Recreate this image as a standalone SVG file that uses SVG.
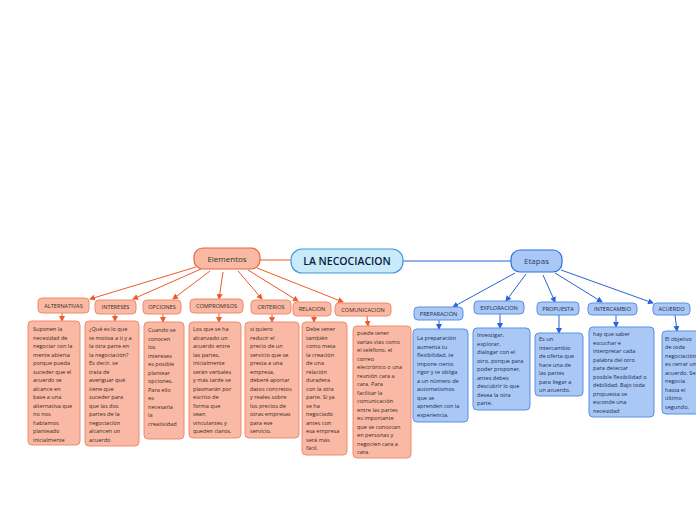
<svg xmlns="http://www.w3.org/2000/svg" width="696" height="520" viewBox="0 0 696 520">
<style>
.o{fill:#f9b9a4;stroke:#f08a6c;stroke-width:1}
.b{fill:#a9c8f6;stroke:#5b8fe6;stroke-width:1}
.lo{stroke:#f05a28;stroke-width:1;fill:none}
.lb{stroke:#2a62d8;stroke-width:1;fill:none}
.t{font-family:"Open Sans","Noto Sans",sans-serif;font-size:5.6px}
.to{fill:#3a2a22}
.tb{fill:#1e2a48}
.h{font-family:"Open Sans","Noto Sans",sans-serif;font-size:5.6px;text-anchor:middle}
</style>
<defs>
<marker id="ao" markerWidth="6" markerHeight="6" refX="5" refY="3" orient="auto" markerUnits="userSpaceOnUse"><path d="M0,0L6,3L0,6z" fill="#f05a28"/></marker>
<marker id="ab" markerWidth="6" markerHeight="6" refX="5" refY="3" orient="auto" markerUnits="userSpaceOnUse"><path d="M0,0L6,3L0,6z" fill="#2a62d8"/></marker>
</defs>
<rect width="696" height="520" fill="#ffffff"/>
<g id="connectors">
<line class="lo" x1="260" y1="260" x2="291" y2="260"/>
<line class="lb" x1="403" y1="261" x2="511" y2="261"/>
<line class="lo" x1="196" y1="267" x2="90" y2="299" marker-end="url(#ao)"/>
<line class="lo" x1="201" y1="269" x2="133" y2="299" marker-end="url(#ao)"/>
<line class="lo" x1="210" y1="271" x2="173" y2="299" marker-end="url(#ao)"/>
<line class="lo" x1="223" y1="272" x2="219" y2="299" marker-end="url(#ao)"/>
<line class="lo" x1="238" y1="271" x2="262" y2="299" marker-end="url(#ao)"/>
<line class="lo" x1="248" y1="270" x2="298" y2="301" marker-end="url(#ao)"/>
<line class="lo" x1="257" y1="268" x2="343" y2="302" marker-end="url(#ao)"/>
<line class="lo" x1="62" y1="313" x2="62" y2="321" marker-end="url(#ao)"/>
<line class="lo" x1="115" y1="314" x2="115" y2="321" marker-end="url(#ao)"/>
<line class="lo" x1="163" y1="314" x2="163" y2="322" marker-end="url(#ao)"/>
<line class="lo" x1="219" y1="313" x2="219" y2="322" marker-end="url(#ao)"/>
<line class="lo" x1="272" y1="314" x2="272" y2="322" marker-end="url(#ao)"/>
<line class="lo" x1="314" y1="316" x2="314" y2="322" marker-end="url(#ao)"/>
<line class="lo" x1="367" y1="316" x2="368" y2="326" marker-end="url(#ao)"/>
<line class="lb" x1="515" y1="273" x2="453" y2="307" marker-end="url(#ab)"/>
<line class="lb" x1="526" y1="274" x2="506" y2="301" marker-end="url(#ab)"/>
<line class="lb" x1="543" y1="275" x2="555" y2="302" marker-end="url(#ab)"/>
<line class="lb" x1="555" y1="273" x2="602" y2="302" marker-end="url(#ab)"/>
<line class="lb" x1="561" y1="270" x2="653" y2="303" marker-end="url(#ab)"/>
<line class="lb" x1="439" y1="320" x2="439" y2="329" marker-end="url(#ab)"/>
<line class="lb" x1="500" y1="314" x2="500" y2="328" marker-end="url(#ab)"/>
<line class="lb" x1="559" y1="315" x2="559" y2="333" marker-end="url(#ab)"/>
<line class="lb" x1="616" y1="315" x2="616" y2="327" marker-end="url(#ab)"/>
<line class="lb" x1="675" y1="315" x2="677" y2="331" marker-end="url(#ab)"/>
</g>
<g id="central"><rect x="291" y="249" width="112" height="24" rx="11" fill="#c8eafb" stroke="#3c9ad8" stroke-width="1.2"/><text x="347" y="265" font-family="Open Sans,Noto Sans,sans-serif" font-size="10.5" font-weight="600" fill="#0c1a3a" text-anchor="middle">LA NECOCIACION</text></g>
<g id="elementos"><rect x="194" y="248" width="66" height="21" rx="9" fill="#f9b9a4" stroke="#ea6540" stroke-width="1.2"/><text x="227" y="261.5" font-family="Open Sans,Noto Sans,sans-serif" font-size="8" fill="#1d3b2a" text-anchor="middle">Elementos</text></g>
<g id="etapas"><rect x="511" y="250" width="51" height="22" rx="9" fill="#a9c8f6" stroke="#2f6fe0" stroke-width="1.2"/><text x="536.5" y="264" font-family="Open Sans,Noto Sans,sans-serif" font-size="8" fill="#1f3f6f" text-anchor="middle">Etapas</text></g>

<g id="alternativas"><rect class="o" x="38" y="298" width="51" height="15" rx="4"/><text class="h to" x="63.5" y="307.5">ALTERNATIVAS</text></g>
<g id="intereses"><rect class="o" x="95" y="300" width="41" height="14" rx="4"/><text class="h to" x="115.5" y="309">INTERESES</text></g>
<g id="opciones"><rect class="o" x="143" y="300" width="38" height="14" rx="4"/><text class="h to" x="162" y="309">OPCIONES</text></g>
<g id="compromisos"><rect class="o" x="190" y="299" width="53" height="14" rx="4"/><text class="h to" x="216.5" y="308">COMPROMISOS</text></g>
<g id="criterios"><rect class="o" x="251" y="300" width="40" height="14" rx="4"/><text class="h to" x="271" y="309">CRITERIOS</text></g>
<g id="relacion"><rect class="o" x="293" y="302" width="38" height="14" rx="4"/><text class="h to" x="312" y="311">RELACION</text></g>
<g id="comunicacion"><rect class="o" x="335" y="303" width="56" height="13" rx="4"/><text class="h to" x="363" y="311.5">COMUNICACION</text></g>

<g id="alternativas-d"><rect class="o" x="28" y="321" width="52" height="124" rx="4"/><text class="t to" x="33" y="331"><tspan x="33">Suponen la</tspan><tspan x="33" dy="8.5">necesidad de</tspan><tspan x="33" dy="8.5">negociar con la</tspan><tspan x="33" dy="8.5">mente abierta</tspan><tspan x="33" dy="8.5">porque pueda</tspan><tspan x="33" dy="8.5">suceder que el</tspan><tspan x="33" dy="8.5">acuerdo se</tspan><tspan x="33" dy="8.5">alcance en</tspan><tspan x="33" dy="8.5">base a una</tspan><tspan x="33" dy="8.5">alternativa que</tspan><tspan x="33" dy="8.5">no nos</tspan><tspan x="33" dy="8.5">habíamos</tspan><tspan x="33" dy="8.5">planteado</tspan><tspan x="33" dy="8.5">inicialmente</tspan></text></g>
<g id="intereses-d"><rect class="o" x="85" y="321" width="54" height="125" rx="4"/><text class="t to" x="89" y="331"><tspan x="89">¿Qué es lo que</tspan><tspan x="89" dy="8.5">te motiva a ti y a</tspan><tspan x="89" dy="8.5">la otra parte en</tspan><tspan x="89" dy="8.5">la negociación?</tspan><tspan x="89" dy="8.5">Es decir, se</tspan><tspan x="89" dy="8.5">trata de</tspan><tspan x="89" dy="8.5">averiguar qué</tspan><tspan x="89" dy="8.5">tiene que</tspan><tspan x="89" dy="8.5">suceder para</tspan><tspan x="89" dy="8.5">que las dos</tspan><tspan x="89" dy="8.5">partes de la</tspan><tspan x="89" dy="8.5">negociación</tspan><tspan x="89" dy="8.5">alcancen un</tspan><tspan x="89" dy="8.5">acuerdo</tspan></text></g>
<g id="opciones-d"><rect class="o" x="144" y="322" width="40" height="117" rx="4"/><text class="t to" x="148" y="332"><tspan x="148">Cuando se</tspan><tspan x="148" dy="8.5">conocen</tspan><tspan x="148" dy="8.5">los</tspan><tspan x="148" dy="8.5">intereses</tspan><tspan x="148" dy="8.5">es posible</tspan><tspan x="148" dy="8.5">plantear</tspan><tspan x="148" dy="8.5">opciones.</tspan><tspan x="148" dy="8.5">Para ello</tspan><tspan x="148" dy="8.5">es</tspan><tspan x="148" dy="8.5">necesaria</tspan><tspan x="148" dy="8.5">la</tspan><tspan x="148" dy="8.5">creatividad</tspan><tspan x="148" dy="8.5">.</tspan></text></g>
<g id="compromisos-d"><rect class="o" x="189" y="322" width="52" height="116" rx="4"/><text class="t to" x="193" y="331"><tspan x="193">Los que se ha</tspan><tspan x="193" dy="8.5">alcanzado un</tspan><tspan x="193" dy="8.5">acuerdo entre</tspan><tspan x="193" dy="8.5">las partes,</tspan><tspan x="193" dy="8.5">inicialmente</tspan><tspan x="193" dy="8.5">serán verbales</tspan><tspan x="193" dy="8.5">y más tarde se</tspan><tspan x="193" dy="8.5">plasmarán por</tspan><tspan x="193" dy="8.5">escrito de</tspan><tspan x="193" dy="8.5">forma que</tspan><tspan x="193" dy="8.5">sean</tspan><tspan x="193" dy="8.5">vinculantes y</tspan><tspan x="193" dy="8.5">queden claros.</tspan></text></g>
<g id="criterios-d"><rect class="o" x="245" y="322" width="54" height="116" rx="4"/><text class="t to" x="250" y="331"><tspan x="250">si quiero</tspan><tspan x="250" dy="8.5">reducir el</tspan><tspan x="250" dy="8.5">precio de un</tspan><tspan x="250" dy="8.5">servicio que se</tspan><tspan x="250" dy="8.5">presta a una</tspan><tspan x="250" dy="8.5">empresa,</tspan><tspan x="250" dy="8.5">deberé aportar</tspan><tspan x="250" dy="8.5">datos concretos</tspan><tspan x="250" dy="8.5">y reales sobre</tspan><tspan x="250" dy="8.5">los precios de</tspan><tspan x="250" dy="8.5">otras empresas</tspan><tspan x="250" dy="8.5">para ese</tspan><tspan x="250" dy="8.5">servicio.</tspan></text></g>
<g id="relacion-d"><rect class="o" x="302" y="322" width="45" height="133" rx="4"/><text class="t to" x="306" y="331"><tspan x="306">Debe tener</tspan><tspan x="306" dy="8.5">también</tspan><tspan x="306" dy="8.5">como meta</tspan><tspan x="306" dy="8.5">la creación</tspan><tspan x="306" dy="8.5">de una</tspan><tspan x="306" dy="8.5">relación</tspan><tspan x="306" dy="8.5">duradera</tspan><tspan x="306" dy="8.5">con la otra</tspan><tspan x="306" dy="8.5">parte. Si ya</tspan><tspan x="306" dy="8.5">se ha</tspan><tspan x="306" dy="8.5">negociado</tspan><tspan x="306" dy="8.5">antes con</tspan><tspan x="306" dy="8.5">esa empresa</tspan><tspan x="306" dy="8.5">será más</tspan><tspan x="306" dy="8.5">fácil.</tspan></text></g>
<g id="comunicacion-d"><rect class="o" x="353" y="326" width="58" height="132" rx="4"/><text class="t to" x="357" y="335"><tspan x="357">puede tener</tspan><tspan x="357" dy="8.5">varias vías como</tspan><tspan x="357" dy="8.5">el teléfono, el</tspan><tspan x="357" dy="8.5">correo</tspan><tspan x="357" dy="8.5">electrónico o una</tspan><tspan x="357" dy="8.5">reunión cara a</tspan><tspan x="357" dy="8.5">cara. Para</tspan><tspan x="357" dy="8.5">facilitar la</tspan><tspan x="357" dy="8.5">comunicación</tspan><tspan x="357" dy="8.5">entre las partes</tspan><tspan x="357" dy="8.5">es importante</tspan><tspan x="357" dy="8.5">que se conozcan</tspan><tspan x="357" dy="8.5">en personas y</tspan><tspan x="357" dy="8.5">negocien cara a</tspan><tspan x="357" dy="8.5">cara.</tspan></text></g>

<g id="preparacion"><rect class="b" x="414" y="307" width="49" height="13" rx="4"/><text class="h tb" x="438.5" y="315.5">PREPARACIÓN</text></g>
<g id="exploracion"><rect class="b" x="474" y="301" width="50" height="13" rx="4"/><text class="h tb" x="499" y="309.5">EXPLORACION</text></g>
<g id="propuesta"><rect class="b" x="537" y="302" width="42" height="13" rx="4"/><text class="h tb" x="558" y="310.5">PROPUESTA</text></g>
<g id="intercambio"><rect class="b" x="588" y="303" width="49" height="12" rx="4"/><text class="h tb" x="612.5" y="311">INTERCAMBIO</text></g>
<g id="acuerdo"><rect class="b" x="653" y="303" width="37" height="12" rx="4"/><text class="h tb" x="671.5" y="311">ACUERDO</text></g>

<g id="preparacion-d"><rect class="b" x="413" y="329" width="55" height="93" rx="4"/><text class="t tb" x="417" y="340"><tspan x="417">La preparación</tspan><tspan x="417" dy="8.5">aumenta tu</tspan><tspan x="417" dy="8.5">flexibilidad, te</tspan><tspan x="417" dy="8.5">impone cierto</tspan><tspan x="417" dy="8.5">rigor y te obliga</tspan><tspan x="417" dy="8.5">a un número de</tspan><tspan x="417" dy="8.5">automatismos</tspan><tspan x="417" dy="8.5">que se</tspan><tspan x="417" dy="8.5">aprenden con la</tspan><tspan x="417" dy="8.5">experiencia.</tspan></text></g>
<g id="exploracion-d"><rect class="b" x="473" y="328" width="57" height="82" rx="4"/><text class="t tb" x="477" y="337"><tspan x="477">Investigar,</tspan><tspan x="477" dy="8.5">explorar,</tspan><tspan x="477" dy="8.5">dialogar con el</tspan><tspan x="477" dy="8.5">otro, porque para</tspan><tspan x="477" dy="8.5">poder proponer,</tspan><tspan x="477" dy="8.5">antes debes</tspan><tspan x="477" dy="8.5">descubrir lo que</tspan><tspan x="477" dy="8.5">desea la otra</tspan><tspan x="477" dy="8.5">parte.</tspan></text></g>
<g id="propuesta-d"><rect class="b" x="535" y="333" width="48" height="63" rx="4"/><text class="t tb" x="539" y="341"><tspan x="539">Es un</tspan><tspan x="539" dy="8.5">intercambio</tspan><tspan x="539" dy="8.5">de oferta  que</tspan><tspan x="539" dy="8.5">hace una de</tspan><tspan x="539" dy="8.5">las partes</tspan><tspan x="539" dy="8.5">para llegar a</tspan><tspan x="539" dy="8.5">un acuerdo.</tspan></text></g>
<g id="intercambio-d"><rect class="b" x="589" y="327" width="65" height="90" rx="4"/><text class="t tb" x="593" y="336"><tspan x="593">hay que saber</tspan><tspan x="593" dy="8.5">escuchar e</tspan><tspan x="593" dy="8.5">interpretar cada</tspan><tspan x="593" dy="8.5">palabra del otro</tspan><tspan x="593" dy="8.5">para detectar</tspan><tspan x="593" dy="8.5">posible flexibilidad o</tspan><tspan x="593" dy="8.5">debilidad. Bajo toda</tspan><tspan x="593" dy="8.5">propuesta se</tspan><tspan x="593" dy="8.5">esconde una</tspan><tspan x="593" dy="8.5">necesidad</tspan></text></g>
<g id="acuerdo-d"><rect class="b" x="662" y="331" width="46" height="83" rx="4"/><text class="t tb" x="665" y="340.5"><tspan x="665">El objetivo</tspan><tspan x="665" dy="8.5">de toda</tspan><tspan x="665" dy="8.5">negociación</tspan><tspan x="665" dy="8.5">es cerrar un</tspan><tspan x="665" dy="8.5">acuerdo. Se</tspan><tspan x="665" dy="8.5">negocia</tspan><tspan x="665" dy="8.5">hasta el</tspan><tspan x="665" dy="8.5">último</tspan><tspan x="665" dy="8.5">segundo.</tspan></text></g>
</svg>
